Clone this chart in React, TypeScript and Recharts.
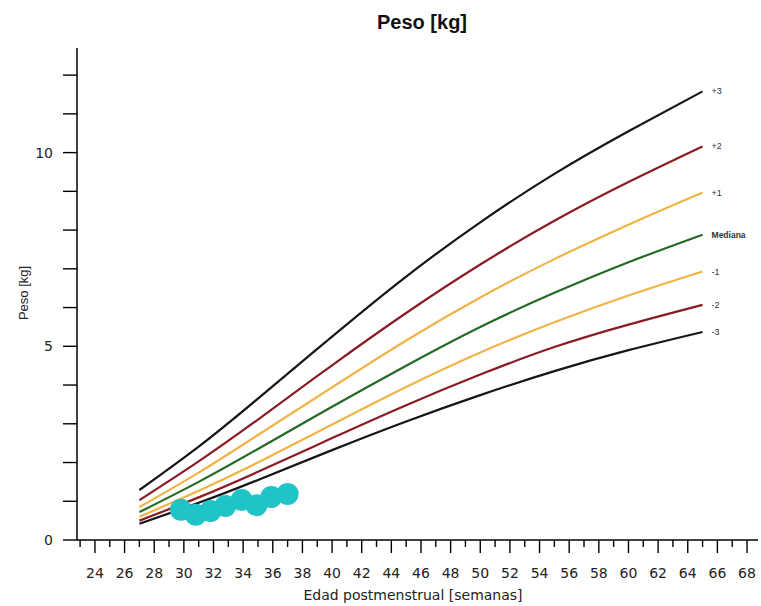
import { ComposedChart, Line, Scatter, XAxis, YAxis } from "recharts";

// semanas de edad postmenstrual (nodos de las curvas)
const weeks = [27, 31, 35, 40, 45, 50, 55, 60, 65];

const sdPlus3 = [1.29, 2.41, 3.65, 5.25, 6.8, 8.2, 9.45, 10.55, 11.58];
const sdPlus2 = [1.03, 2.03, 3.11, 4.51, 5.86, 7.11, 8.24, 9.24, 10.16];
const sdPlus1 = [0.85, 1.74, 2.71, 3.94, 5.15, 6.26, 7.25, 8.14, 8.97];
const median = [0.72, 1.5, 2.35, 3.44, 4.5, 5.5, 6.38, 7.17, 7.88];
const sdMinus1 = [0.6, 1.27, 2.0, 2.98, 3.95, 4.84, 5.62, 6.31, 6.93];
const sdMinus2 = [0.5, 1.1, 1.76, 2.63, 3.48, 4.27, 4.98, 5.56, 6.07];
const sdMinus3 = [0.42, 0.96, 1.55, 2.32, 3.06, 3.74, 4.36, 4.9, 5.37];

// mediciones del paciente
const patientWeeks = [29.8, 30.8, 31.8, 32.8, 33.9, 34.9, 35.9, 37.0];
const patientKg = [0.78, 0.65, 0.75, 0.88, 1.03, 0.9, 1.11, 1.19];

const xTicks = [23, 24, 25, 26, 27, 28, 29, 30, 31, 32, 33, 34, 35, 36, 37, 38, 39, 40, 41, 42, 43, 44, 45, 46, 47, 48, 49, 50, 51, 52, 53, 54, 55, 56, 57, 58, 59, 60, 61, 62, 63, 64, 65, 66, 67, 68];
const yTicks = [0, 1, 2, 3, 4, 5, 6, 7, 8, 9, 10, 11, 12];
const yLabels = [0, 5, 10];

const curves = [
  { key: "p3", name: "+3", values: sdPlus3, color: "#161616" },
  { key: "p2", name: "+2", values: sdPlus2, color: "#8a1c24" },
  { key: "p1", name: "+1", values: sdPlus1, color: "#f0b446" },
  { key: "med", name: "Mediana", values: median, color: "#236a24" },
  { key: "m1", name: "-1", values: sdMinus1, color: "#f0b446" },
  { key: "m2", name: "-2", values: sdMinus2, color: "#8a1c24" },
  { key: "m3", name: "-3", values: sdMinus3, color: "#161616" },
];

const table = weeks.map((week, i) => {
  const row: Record<string, number> = { week };
  curves.forEach((c) => (row[c.key] = c.values[i]));
  return row;
});

const patient = patientWeeks.map((week, i) => ({ week, kg: patientKg[i] }));

const tickFont = "'DejaVu Sans', Verdana, sans-serif";

const XTick = (props: any) => {
  const { x, y, payload } = props;
  const v = payload.value;
  const major = v % 2 === 0;
  return (
    <g>
      <line x1={x} x2={x} y1={y} y2={y + (major ? 13 : 7)} stroke="#000" strokeWidth={1.4} />
      {major && (
        <text x={x} y={y + 38} textAnchor="middle" fontSize={14} fontFamily={tickFont} fill="#222">
          {v}
        </text>
      )}
    </g>
  );
};

const YTick = (props: any) => {
  const { x, y, payload } = props;
  const v = payload.value;
  return (
    <g>
      <line x1={x - 14} x2={x} y1={y} y2={y} stroke="#000" strokeWidth={1.4} />
      {yLabels.includes(v) && (
        <text x={x - 24} y={y + 5} textAnchor="end" fontSize={14} fontFamily={tickFont} fill="#222">
          {v}
        </text>
      )}
    </g>
  );
};

const endLabel = (name: string) => (props: any) => {
  const { x, y, index } = props;
  if (index !== weeks.length - 1) return null;
  return (
    <text
      key={name}
      x={x + 9}
      y={y + 3}
      fontSize={name === "Mediana" ? 8.5 : 9}
      fontWeight={name === "Mediana" ? 700 : 400}
      fontFamily="'Liberation Sans', Arial, sans-serif"
      fill="#333"
    >
      {name}
    </text>
  );
};

export default function App() {
  return (
    <div style={{ position: "absolute", left: 0, top: 0, width: 761, height: 606, background: "#fff" }}>
      <div
        style={{
          position: "absolute",
          left: 322,
          top: 11,
          width: 200,
          textAlign: "center",
          fontFamily: "'Liberation Sans', Arial, sans-serif",
          fontWeight: 700,
          fontSize: 20,
          color: "#111",
        }}
      >
        Peso [kg]
      </div>
      <div
        style={{
          position: "absolute",
          left: 23,
          top: 293,
          transform: "translate(-50%, -50%) rotate(-90deg)",
          whiteSpace: "nowrap",
          fontFamily: "'Liberation Sans', Arial, sans-serif",
          fontSize: 13,
          color: "#222",
        }}
      >
        Peso [kg]
      </div>
      <div
        style={{
          position: "absolute",
          left: 263,
          top: 587,
          width: 300,
          textAlign: "center",
          fontFamily: tickFont,
          fontSize: 14,
          color: "#222",
          whiteSpace: "nowrap",
        }}
      >
        Edad postmenstrual [semanas]
      </div>
      <ComposedChart width={761} height={606} margin={{ top: 48, right: 3, left: 37, bottom: 36 }}>
        <XAxis
          dataKey="week"
          type="number"
          domain={[22.79, 68.74]}
          ticks={xTicks}
          interval={0}
          allowDataOverflow
          height={30}
          tickSize={0}
          tickMargin={0}
          tickLine={false}
          tick={<XTick />}
          axisLine={{ stroke: "#000", strokeWidth: 1.5 }}
        />
        <YAxis
          type="number"
          domain={[0, 12.7]}
          ticks={yTicks}
          interval={0}
          allowDataOverflow
          width={40}
          tickSize={0}
          tickMargin={0}
          tickLine={false}
          tick={<YTick />}
          axisLine={{ stroke: "#000", strokeWidth: 1.5 }}
        />
        {curves.map((c) => (
          <Line
            key={c.key}
            data={table}
            dataKey={c.key}
            type="natural"
            stroke={c.color}
            strokeWidth={2.2}
            dot={false}
            isAnimationActive={false}
            label={endLabel(c.name)}
          />
        ))}
        <Scatter
          data={patient}
          dataKey="kg"
          fill="#20c4c6"
          shape={(p: any) => <circle cx={p.cx} cy={p.cy} r={11} fill="#20c4c6" />}
          isAnimationActive={false}
        />
      </ComposedChart>
    </div>
  );
}
